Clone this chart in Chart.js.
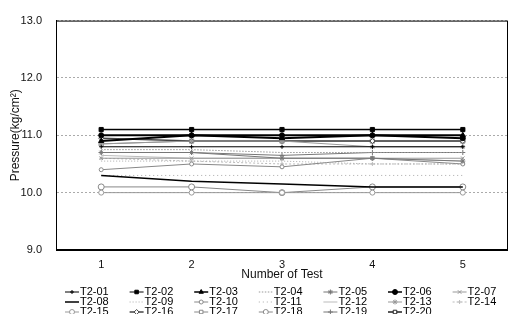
<!DOCTYPE html>
<html><head><meta charset="utf-8">
<script src="https://cdn.jsdelivr.net/npm/chart.js@4/dist/chart.umd.min.js"></script>
<style>html,body{margin:0;padding:0;background:#fff}</style>
</head><body>
<canvas id="c" width="516" height="314"></canvas>
<script>
const categories = ['1', '2', '3', '4', '5'];
const yTicks = [9.0, 10.0, 11.0, 12.0, 13.0];

const T2_01 = [10.80, 10.80, 10.80, 10.80, 10.80];
const T2_02 = [11.10, 11.10, 11.10, 11.10, 11.10];
const T2_03 = [10.90, 11.00, 10.95, 11.00, 11.00];
const T2_04 = [10.75, 10.75, 10.70, 10.70, 10.70];
const T2_05 = [10.70, 10.70, 10.60, 10.60, 10.55];
const T2_06 = [11.00, 11.00, 11.00, 11.00, 10.95];
const T2_07 = [10.60, 10.60, 10.60, 10.60, 10.60];
const T2_08 = [10.30, 10.20, 10.15, 10.10, 10.10];
const T2_09 = [10.55, 10.55, 10.55, 10.50, 10.50];
const T2_10 = [10.40, 10.50, 10.45, 10.60, 10.50];
const T2_11 = [10.30, 10.30, 10.30, 10.30, 10.30];
const T2_12 = [10.65, 10.60, 10.60, 10.60, 10.55];
const T2_13 = [10.85, 10.90, 10.90, 10.80, 10.80];
const T2_14 = [10.60, 10.55, 10.50, 10.50, 10.50];
const T2_15 = [10.00, 10.00, 10.00, 10.00, 10.00];
const T2_16 = [10.95, 10.90, 10.90, 10.90, 10.90];
const T2_17 = [10.85, 10.90, 10.90, 10.90, 10.90];
const T2_18 = [10.10, 10.10, 10.00, 10.10, 10.10];
const T2_19 = [10.70, 10.70, 10.65, 10.70, 10.70];
const T2_20 = [11.10, 11.10, 11.10, 11.10, 11.10];

const seriesNames = ['T2-01','T2-02','T2-03','T2-04','T2-05','T2-06','T2-07','T2-08','T2-09','T2-10',
                     'T2-11','T2-12','T2-13','T2-14','T2-15','T2-16','T2-17','T2-18','T2-19','T2-20'];
const seriesValues = [T2_01,T2_02,T2_03,T2_04,T2_05,T2_06,T2_07,T2_08,T2_09,T2_10,
                      T2_11,T2_12,T2_13,T2_14,T2_15,T2_16,T2_17,T2_18,T2_19,T2_20];

// style per series: [color, lineWidth, dash, pointStyle, radius, fill]
const styles = [
  ['#000', 1, [], 'cross', 2, '#000'],
  ['#000', 1, [], 'rect', 2.5, '#000'],
  ['#000', 2, [], 'triangle', 3, '#000'],
  ['#999', 1, [1.5,1.5], false, 0, '#999'],
  ['#777', 1, [], 'star', 2.5, '#777'],
  ['#000', 2, [], 'circle', 2.5, '#000'],
  ['#999', 1, [], 'crossRot', 2.5, '#999'],
  ['#000', 1.5, [], false, 0, '#000'],
  ['#aaa', 1, [1,2], false, 0, '#aaa'],
  ['#888', 1, [], 'circle', 2, '#fff'],
  ['#aaa', 1, [1,3], false, 0, '#aaa'],
  ['#bbb', 1, [], false, 0, '#bbb'],
  ['#999', 1, [], 'star', 2.5, '#999'],
  ['#bbb', 1, [2,2], 'cross', 2, '#bbb'],
  ['#999', 1, [], 'circle', 2.5, '#fff'],
  ['#444', 1.5, [], 'rectRot', 2.5, '#fff'],
  ['#888', 1, [], 'rect', 3, '#fff'],
  ['#888', 1, [], 'circle', 3, '#fff'],
  ['#777', 1, [], 'cross', 2.5, '#777'],
  ['#222', 1.5, [], 'rect', 3, '#fff']
];

const datasets = seriesNames.map((name, i) => {
  const s = styles[i];
  return {
    label: name,
    data: seriesValues[i],
    borderColor: s[0],
    borderWidth: s[1],
    borderDash: s[2],
    pointStyle: s[3],
    pointRadius: s[4],
    pointBorderColor: s[0],
    pointBackgroundColor: s[5],
    pointBorderWidth: 1,
    tension: 0,
    fill: false
  };
});

const framePlugin = {
  id: 'frame',
  afterDraw(chart) {
    const {ctx, chartArea: a} = chart;
    ctx.save();
    ctx.strokeStyle = '#000';
    ctx.lineWidth = 1;
    ctx.strokeRect(a.left + 0.5, a.top + 0.5, a.right - a.left - 1, a.bottom - a.top);
    ctx.lineWidth = 2;
    ctx.beginPath();
    ctx.moveTo(a.left, a.bottom);
    ctx.lineTo(a.right, a.bottom);
    ctx.stroke();
    ctx.restore();
  }
};

const legendPlugin = {
  id: 'gridLegend',
  afterDraw(chart) {
    const ctx = chart.ctx;
    const x0 = 65, colW = 64.6, y0 = 292, rowH = 10, sample = 14;
    ctx.save();
    ctx.font = '11px "Liberation Sans", Arial, sans-serif';
    ctx.textBaseline = 'middle';
    ctx.textAlign = 'left';
    chart.data.datasets.forEach((ds, i) => {
      const col = i % 7, row = Math.floor(i / 7);
      const x = x0 + col * colW, y = y0 + row * rowH;
      ctx.save();
      ctx.strokeStyle = ds.borderColor;
      ctx.lineWidth = Math.min(ds.borderWidth, 1.5);
      ctx.setLineDash(ds.borderDash || []);
      ctx.beginPath();
      ctx.moveTo(x, y);
      ctx.lineTo(x + sample, y);
      ctx.stroke();
      ctx.setLineDash([]);
      if (ds.pointStyle) {
        ctx.fillStyle = ds.pointBackgroundColor;
        ctx.strokeStyle = ds.pointBorderColor;
        ctx.lineWidth = 1;
        Chart.helpers.drawPoint(ctx, {pointStyle: ds.pointStyle, radius: Math.min(ds.pointRadius, 2.5), rotation: 0, borderWidth: 1}, x + sample / 2, y);
      }
      ctx.restore();
      ctx.fillStyle = '#000';
      ctx.fillText(ds.label, x + sample + 1, y);
    });
    ctx.restore();
  }
};

new Chart(document.getElementById('c'), {
  type: 'line',
  data: { labels: categories, datasets },
  options: {
    responsive: false,
    animation: false,
    devicePixelRatio: 1,
    layout: { padding: { top: 15, right: 8, bottom: 32, left: 0 } },
    plugins: { legend: { display: false }, tooltip: { enabled: false } },
    scales: {
      x: {
        type: 'category',
        offset: true,
        grid: { display: false, drawTicks: false },
        border: { display: false },
        ticks: { color: '#111', padding: 8, font: { family: '"Liberation Sans", Arial, sans-serif', size: 11 } },
        title: { display: true, text: 'Number of Test', color: '#111', padding: { top: 0, bottom: 0 },
                 font: { family: '"Liberation Sans", Arial, sans-serif', size: 12 } },
        afterFit(s) { s.height = 32; }
      },
      y: {
        min: 9, max: 13,
        afterBuildTicks(s) { s.ticks = yTicks.map(v => ({ value: v })); },
        grid: { color: '#aaa', lineWidth: 1, drawTicks: false },
        border: { display: true, color: '#000', width: 1, dash: [2, 2] },
        ticks: { color: '#111', padding: 14, font: { family: '"Liberation Sans", Arial, sans-serif', size: 11 },
                 callback: v => Number(v).toFixed(1) },
        title: { display: true, text: 'Pressure(kg/cm²)', color: '#111', padding: { top: 8, bottom: 0 },
                 font: { family: '"Liberation Sans", Arial, sans-serif', size: 12 } },
        afterFit(s) { s.width = 56; }
      }
    }
  },
  plugins: [framePlugin, legendPlugin]
});
</script>
</body></html>
